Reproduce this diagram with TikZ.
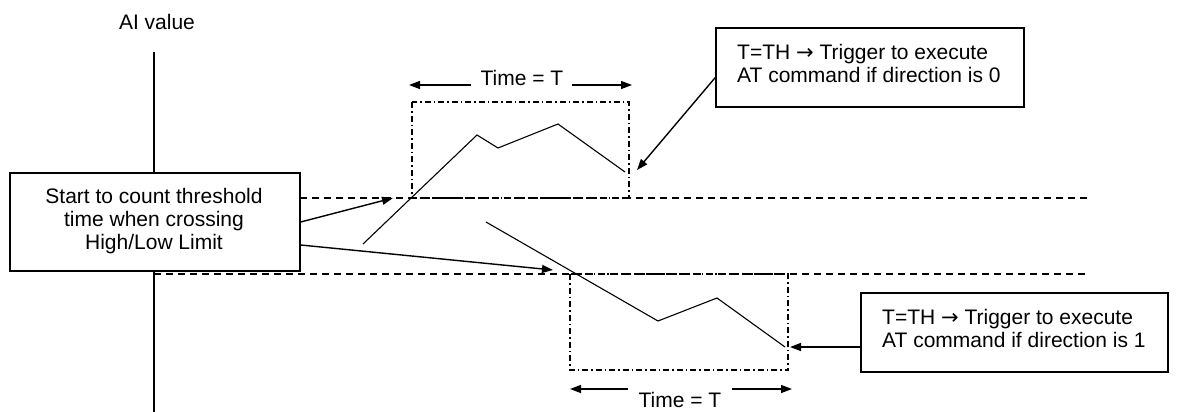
\documentclass[tikz,border=0pt]{standalone}
\usepackage{fontspec}
\setmainfont{Liberation Sans}
\newfontfamily\symfnt{DejaVu Sans}
\usetikzlibrary{arrows.meta}
\begin{document}
\begin{tikzpicture}[x=1pt,y=-1pt,
  txt/.style={font=\fontsize{21}{23}\selectfont, inner sep=0pt},
  box/.style={draw, line width=1.4pt, fill=white, inner sep=0pt},
  curve/.style={line width=1.1pt, line join=miter},
  lim/.style={line width=1.4pt, dash pattern=on 7pt off 5pt},
  win/.style={line width=1.2pt, dash pattern=on 6pt off 3pt on 1.5pt off 3pt},
  arr/.style={line width=1.4pt, -{Triangle[length=11pt,width=8pt]}},
]
\useasboundingbox (0,0) rectangle (1192,412);
% axis
\node[txt] (ylab) at (157,22) {AI value};
\coordinate (ax0) at (154,52);
\coordinate (ax1) at (154,412);
\draw[line width=1.2pt] (ax0) -- (ax1);
% limit lines
\coordinate (hiL) at (300,198);
\coordinate (hiR) at (1087,198);
\coordinate (loL) at (154,274);
\coordinate (loR) at (1087,274);
\draw[lim] (hiL) -- (hiR);
\draw[lim] (loL) -- (loR);
% windows
\draw[win] (412,102) rectangle (629,198);
\draw[win] (570,274) rectangle (788,370);
% curves
\draw[curve] (363,244) -- (477,135) -- (498,148) -- (558,124) -- (625,172);
\draw[curve] (486,222) -- (658,321) -- (717,298) -- (785,347);
% time labels
\node[txt] (tt1) at (522,78) {Time = T};
\node[txt] (tt2) at (680,400) {Time = T};
\coordinate (a1L) at (471,85);
\coordinate (a1R) at (572,85);
\coordinate (e1L) at (409,85);
\coordinate (e1R) at (632,85);
\draw[arr] (a1L) -- (e1L);
\draw[arr] (a1R) -- (e1R);
\coordinate (a2L) at (628,389);
\coordinate (a2R) at (732,389);
\coordinate (e2L) at (570,389);
\coordinate (e2R) at (792,389);
\draw[arr] (a2L) -- (e2L);
\draw[arr] (a2R) -- (e2R);
% left box
\node[box, minimum width=290pt, minimum height=98pt] (lb) at (155,222) {};
\node[txt, align=center] (lbt) at (154,221) {Start to count threshold\\time when crossing\\High/Low Limit};
\coordinate (c1) at (393,198);
\coordinate (c2) at (553,270);
\draw[arr] (lb.east) -- (c1);
\draw[arr] ([yshift=-23pt]lb.east) -- (c2);
% upper right box
\node[box, minimum width=308pt, minimum height=79pt] (tb0) at (870,67.5) {};
\node[txt, anchor=west, align=left] (tb0t) at (737,63.5) {T=TH {\symfnt →} Trigger to execute\\AT command if direction is 0};
\coordinate (p0) at (637,170);
\draw[arr] ([yshift=-10pt]tb0.west) -- (p0);
% lower right box
\node[box, minimum width=307pt, minimum height=79pt] (tb1) at (1014.5,332.5) {};
\node[txt, anchor=west, align=left] (tb1t) at (882,328.5) {T=TH {\symfnt →} Trigger to execute\\AT command if direction is 1};
\coordinate (p1) at (790,347);
\draw[arr] ([yshift=-14.5pt]tb1.west) -- (p1);
\end{tikzpicture}
\end{document}
